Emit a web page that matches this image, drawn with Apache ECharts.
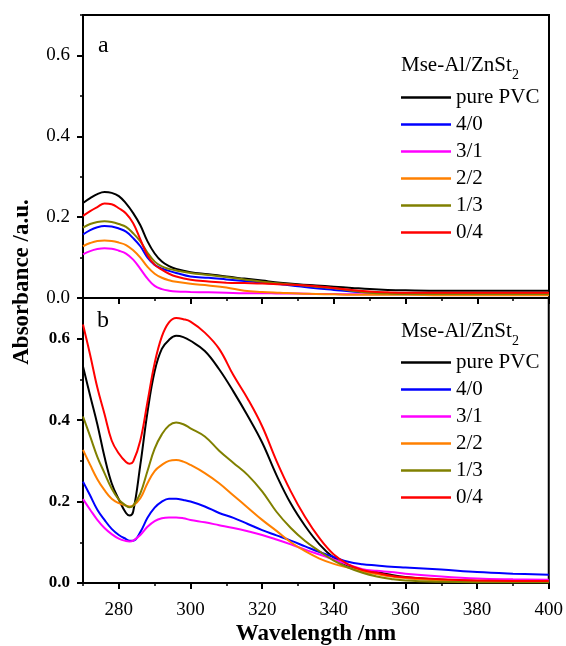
<!DOCTYPE html>
<html>
<head>
<meta charset="utf-8">
<script src="https://cdn.jsdelivr.net/npm/echarts@6/dist/echarts.min.js"></script>
<style>html,body{margin:0;padding:0;background:#fff;}#c{width:566px;height:646px;}</style>
</head>
<body>
<div id="c"></div>
<script>
// ---- data ----
const seriesNames = ['pure PVC', '4/0', '3/1', '2/2', '1/3', '0/4'];
const seriesColors = ['#000000', '#0000ff', '#ff00ff', '#ff8000', '#808000', '#ff0000'];

// panel a
const wlA = [270,272,274,276,278,280,282,284,286,288,290,292,294,296,300,305,310,315,320,325,330,335,340,345,350,355,360,370,380,390,400];
const aPure = [0.235,0.247,0.257,0.262,0.260,0.252,0.234,0.210,0.180,0.140,0.110,0.090,0.079,0.072,0.064,0.059,0.053,0.048,0.043,0.038,0.034,0.031,0.028,0.025,0.022,0.020,0.019,0.018,0.018,0.018,0.018];
const a40 = [0.157,0.168,0.175,0.178,0.177,0.172,0.164,0.148,0.128,0.100,0.082,0.073,0.067,0.062,0.053,0.050,0.046,0.042,0.038,0.034,0.029,0.024,0.020,0.016,0.013,0.012,0.012,0.012,0.012,0.012,0.012];
const a31 = [0.108,0.116,0.121,0.123,0.122,0.117,0.110,0.095,0.072,0.048,0.030,0.022,0.018,0.016,0.015,0.014,0.013,0.012,0.012,0.011,0.011,0.010,0.010,0.009,0.009,0.009,0.009,0.008,0.008,0.008,0.008];
const a22 = [0.128,0.136,0.141,0.142,0.141,0.137,0.131,0.118,0.100,0.077,0.060,0.050,0.044,0.040,0.035,0.031,0.026,0.018,0.015,0.013,0.011,0.010,0.009,0.008,0.008,0.008,0.008,0.007,0.007,0.007,0.007];
const a13 = [0.174,0.183,0.188,0.190,0.188,0.183,0.176,0.160,0.140,0.112,0.090,0.078,0.072,0.068,0.062,0.057,0.052,0.046,0.040,0.036,0.032,0.028,0.024,0.018,0.013,0.011,0.010,0.010,0.010,0.010,0.010];
const a04 = [0.203,0.215,0.225,0.234,0.232,0.222,0.209,0.185,0.145,0.105,0.082,0.070,0.060,0.053,0.045,0.041,0.038,0.037,0.036,0.034,0.032,0.029,0.025,0.020,0.016,0.014,0.013,0.013,0.013,0.013,0.013];

// panel b
const wlB = [270,272,274,276,278,280,282,283,284,286,288,290,292,294,296,298,300,304,308,312,316,320,324,328,332,336,340,344,348,352,356,360,370,380,390,400];
const bPure = [0.532,0.460,0.390,0.310,0.245,0.205,0.172,0.166,0.175,0.290,0.420,0.520,0.575,0.597,0.607,0.604,0.595,0.570,0.525,0.470,0.410,0.345,0.265,0.195,0.140,0.095,0.062,0.042,0.032,0.027,0.020,0.015,0.008,0.005,0.004,0.004];
const b40 = [0.249,0.215,0.180,0.155,0.133,0.118,0.108,0.104,0.104,0.125,0.160,0.185,0.200,0.207,0.207,0.204,0.200,0.188,0.172,0.160,0.145,0.130,0.117,0.104,0.090,0.076,0.064,0.052,0.046,0.043,0.040,0.038,0.033,0.027,0.023,0.020];
const b31 = [0.206,0.180,0.155,0.135,0.120,0.109,0.103,0.102,0.104,0.118,0.138,0.152,0.159,0.161,0.161,0.159,0.155,0.149,0.142,0.135,0.127,0.118,0.107,0.095,0.082,0.070,0.058,0.045,0.034,0.030,0.027,0.023,0.016,0.011,0.009,0.008];
const b22 = [0.327,0.290,0.255,0.228,0.207,0.196,0.190,0.188,0.190,0.208,0.245,0.275,0.290,0.300,0.302,0.298,0.290,0.270,0.245,0.215,0.185,0.155,0.128,0.100,0.078,0.060,0.047,0.038,0.029,0.022,0.016,0.012,0.006,0.004,0.003,0.003];
const b13 = [0.409,0.360,0.310,0.270,0.232,0.205,0.190,0.186,0.190,0.220,0.275,0.330,0.365,0.387,0.394,0.390,0.380,0.360,0.325,0.295,0.265,0.225,0.175,0.135,0.103,0.078,0.055,0.038,0.025,0.016,0.010,0.006,0.003,0.002,0.002,0.002];
const b04 = [0.635,0.560,0.480,0.415,0.350,0.318,0.297,0.293,0.298,0.350,0.445,0.540,0.605,0.640,0.651,0.648,0.642,0.615,0.575,0.510,0.452,0.385,0.300,0.225,0.162,0.110,0.070,0.046,0.032,0.025,0.018,0.014,0.009,0.006,0.005,0.005];

const xMajor = [280,300,320,340,360,380,400];
const yMajor = [0, 0.2, 0.4, 0.6];

const valsA = [aPure, a40, a31, a22, a13, a04];
const valsB = [bPure, b40, b31, b22, b13, b04];

// ---- chart ----
const FONT = 'Liberation Serif';
const chart = echarts.init(document.getElementById('c'), null, {renderer: 'canvas'});

function mainX(gi, showLabels) {
  return {
    type: 'value', gridIndex: gi, position: 'bottom', min: 270, max: 400, interval: 10,
    axisLine: {show: true, onZero: false, lineStyle: {color: '#000', width: 2}},
    axisTick: {show: true, customValues: xMajor, length: 6, lineStyle: {color: '#000', width: 2}},
    axisLabel: {show: showLabels, customValues: xMajor, color: '#000', fontFamily: FONT, fontSize: 19, margin: 18},
    splitLine: {show: false}
  };
}
function minorX(gi) {
  return {
    type: 'value', gridIndex: gi, position: 'bottom', min: 270, max: 400, interval: 10,
    axisLine: {show: false, onZero: false},
    axisTick: {show: true, length: 3, lineStyle: {color: '#000', width: 1.5}},
    axisLabel: {show: false}, splitLine: {show: false}
  };
}
function mainY(gi, bold, fs) {
  return {
    type: 'value', gridIndex: gi, position: 'left', min: 0, max: 0.7, interval: 0.1,
    axisLine: {show: true, onZero: false, lineStyle: {color: '#000', width: 2}},
    axisTick: {show: true, customValues: yMajor, length: 6, lineStyle: {color: '#000', width: 2}},
    axisLabel: {show: true, customValues: yMajor, color: '#000', fontFamily: FONT, fontSize: fs,
      fontWeight: bold ? 'bold' : 'normal', margin: 13, formatter: v => v.toFixed(1)},
    splitLine: {show: false}
  };
}
function minorY(gi) {
  return {
    type: 'value', gridIndex: gi, position: 'left', min: 0, max: 0.7, interval: 0.1,
    axisLine: {show: false, onZero: false},
    axisTick: {show: true, length: 3, lineStyle: {color: '#000', width: 1.5}},
    axisLabel: {show: false}, splitLine: {show: false}
  };
}

const series = [];
seriesNames.forEach((n, i) => {
  series.push({
    name: n, type: 'line', xAxisIndex: 0, yAxisIndex: 0, symbol: 'none',
    smooth: 0.4,
    lineStyle: {color: seriesColors[i], width: 2}, itemStyle: {color: seriesColors[i]},
    data: wlA.map((w, k) => [w, valsA[i][k]])
  });
});
seriesNames.forEach((n, i) => {
  series.push({
    name: n, type: 'line', xAxisIndex: 1, yAxisIndex: 1, symbol: 'none',
    smooth: 0.4,
    lineStyle: {color: seriesColors[i], width: 2}, itemStyle: {color: seriesColors[i]},
    data: wlB.map((w, k) => [w, valsB[i][k]])
  });
});

function legend(top) {
  return {
    show: true, padding: 0,
    data: seriesNames, orient: 'vertical', left: 401, top: top,
    icon: 'rect', itemWidth: 50, itemHeight: 2.5, itemGap: 6,
    selectedMode: false,
    textStyle: {color: '#000', fontFamily: FONT, fontSize: 21, lineHeight: 21}
  };
}

const option = {
  backgroundColor: '#fff',
  animation: false,
  grid: [
    {left: 83, top: 15, width: 466, height: 283, show: true, borderColor: '#000', borderWidth: 2, backgroundColor: 'transparent'},
    {left: 83, top: 298, width: 466, height: 285, show: true, borderColor: '#000', borderWidth: 2, backgroundColor: 'transparent'}
  ],
  xAxis: [mainX(0, false), mainX(1, true), minorX(0), minorX(1)],
  yAxis: [mainY(0, false, 19), mainY(1, true, 17), minorY(0), minorY(1)],
  legend: [legend(87), legend(352)],
  series: series,
  graphic: [
    {type: 'text', left: 98, top: 34, style: {text: 'a', font: '24px "Liberation Serif"', fill: '#000'}},
    {type: 'text', left: 97, top: 309, style: {text: 'b', font: '24px "Liberation Serif"', fill: '#000'}},
    {type: 'text', left: 401, top: 55, style: {text: 'Mse-Al/ZnSt', font: '21px "Liberation Serif"', fill: '#000'}},
    {type: 'text', left: 512, top: 68, style: {text: '2', font: '14px "Liberation Serif"', fill: '#000'}},
    {type: 'text', left: 401, top: 321, style: {text: 'Mse-Al/ZnSt', font: '21px "Liberation Serif"', fill: '#000'}},
    {type: 'text', left: 512, top: 334, style: {text: '2', font: '14px "Liberation Serif"', fill: '#000'}},
    {type: 'text', x: 22, y: 282, rotation: Math.PI / 2,
      style: {text: 'Absorbance /a.u.', font: 'bold 23px "Liberation Serif"', fill: '#000', align: 'center', verticalAlign: 'middle'}},
    {type: 'text', x: 316, y: 634,
      style: {text: 'Wavelength /nm', font: 'bold 23px "Liberation Serif"', fill: '#000', align: 'center', verticalAlign: 'middle'}}
  ]
};
chart.setOption(option);
</script>
</body>
</html>
